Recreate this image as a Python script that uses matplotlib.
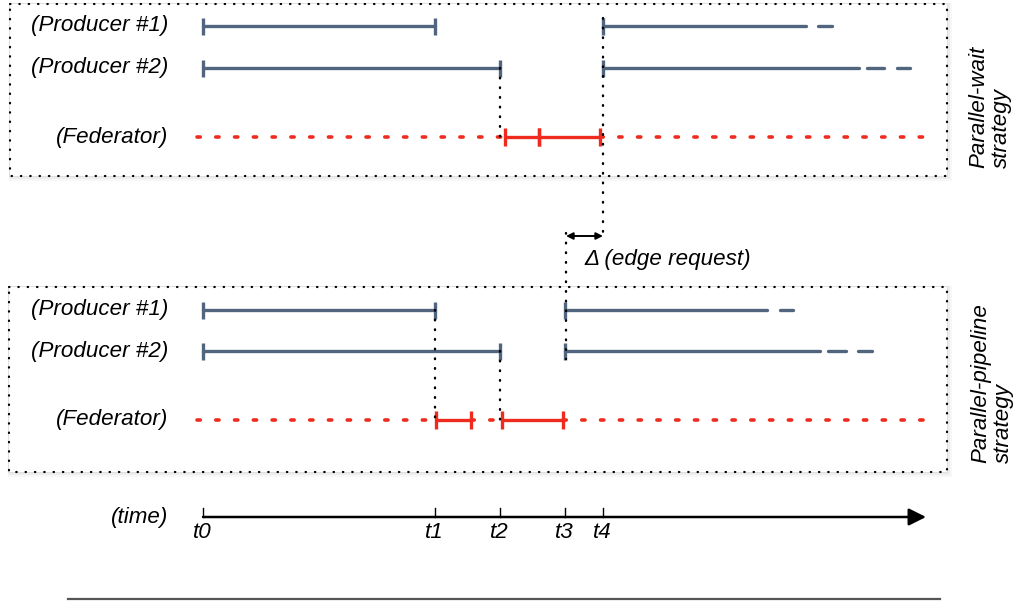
import matplotlib
matplotlib.use("Agg")
import matplotlib.pyplot as plt
from matplotlib.patches import Rectangle

# ---------------- data (time units) ----------------
row_labels = ["(Producer #1)", "(Producer #2)", "(Federator)"]
strategy_labels = ["Parallel-wait\nstrategy", "Parallel-pipeline\nstrategy"]
tick_labels = ["t0", "t1", "t2", "t3", "t4"]
tick_times = [0.0, 23.2, 29.7, 36.2, 40.0]
time_label = "(time)"
time_end = 72.3
delta_label = "Δ (edge request)"
delta_span = [36.3, 40.0]

# Parallel-wait strategy
wait_p1_busy = [(0.0, 23.2), (40.0, 60.3)]
wait_p1_tail = [(61.5, 62.9)]
wait_p2_busy = [(0.0, 29.7), (40.0, 65.6)]
wait_p2_tail = [(66.4, 68.1), (69.4, 70.7)]
wait_fed_busy = [(30.2, 33.6), (33.6, 39.7)]
wait_fed_idle = [(-0.6, 30.2), (39.7, 72.7)]
wait_guides = [(29.7, 1, 2), (40.0, 0, "delta")]

# Parallel-pipeline strategy
pipe_p1_busy = [(0.0, 23.2), (36.2, 56.4)]
pipe_p1_tail = [(57.7, 59.0)]
pipe_p2_busy = [(0.0, 29.7), (36.2, 61.7)]
pipe_p2_tail = [(62.5, 64.3), (65.5, 66.9)]
pipe_fed_busy = [(23.3, 26.8), (29.9, 36.0)]
pipe_fed_idle = [(-0.6, 23.3), (26.8, 29.9), (36.0, 72.4)]
pipe_guides = [(23.2, 0, 2), (29.7, 1, 2), (36.3, "delta", 1)]

# ---------------- styling ----------------
BLUE = "#52657f"
RED = "#ee2b1e"
FS = 16.1
FONT = "Liberation Sans"

fig = plt.figure(figsize=(10.17, 6.04), dpi=100)
# layout axes in pixel units
lay = fig.add_axes([0, 0, 1, 1])
lay.set_xlim(0, 1017)
lay.set_ylim(604, 0)
lay.axis("off")
# data axes: x in time units, y in pixel rows
ax = fig.add_axes([0, 0, 1, 1], sharey=lay)
ax.set_xlim(-20.3, 81.4)
ax.axis("off")
ax.patch.set_alpha(0)

top_rows = [26, 68, 137]
bot_rows = [310, 351, 420]
delta_y = 236
axis_y = 517

def box(x0, y0, x1, y1):
    for i, a in enumerate([0.05, 0.04, 0.03]):
        d = 2 + 2 * i
        lay.add_patch(Rectangle((x0 - 1, y0 - 1), x1 - x0 + d, y1 - y0 + d,
                                facecolor="#000000", alpha=a, edgecolor="none", zorder=0))
    r = Rectangle((x0, y0), x1 - x0, y1 - y0, facecolor="white", edgecolor="black",
                  lw=1.6, linestyle=(0, (0.2, 4.0)), zorder=1)
    r.set_capstyle("round")
    lay.add_patch(r)

box(10, 4, 947, 176)
box(9, 287, 947, 472)

def cap(t, y, color, h=8.5):
    ax.plot([t, t], [y - h, y + h], color=color, lw=2.4, solid_capstyle="butt", zorder=4)

def producer(y, busy, tail):
    for i, (a, b) in enumerate(busy):
        ax.plot([a, b], [y, y], color=BLUE, lw=2.4, solid_capstyle="round", zorder=3)
        cap(a, y, BLUE)
        if i < len(busy) - 1:
            cap(b, y, BLUE)
    for a, b in tail:
        ax.plot([a, b], [y, y], color=BLUE, lw=2.4, solid_capstyle="round", zorder=3)

def federator(y, busy, idle):
    for a, b in idle:
        ax.plot([a, b], [y, y], color=RED, lw=2.6, linestyle=(0, (0.9, 4.3)),
                dash_capstyle="round", zorder=2)
    for a, b in busy:
        ax.plot([a, b], [y, y], color=RED, lw=2.4, solid_capstyle="butt", zorder=3)
        cap(a, y, RED, 9)
        cap(b, y, RED, 9)

def guide(t, y0, y1):
    ax.plot([t, t], [y0, y1], color="black", lw=1.7, linestyle=(0, (0.3, 3.8)),
            dash_capstyle="round", zorder=5)

producer(top_rows[0], wait_p1_busy, wait_p1_tail)
producer(top_rows[1], wait_p2_busy, wait_p2_tail)
federator(top_rows[2], wait_fed_busy, wait_fed_idle)
producer(bot_rows[0], pipe_p1_busy, pipe_p1_tail)
producer(bot_rows[1], pipe_p2_busy, pipe_p2_tail)
federator(bot_rows[2], pipe_fed_busy, pipe_fed_idle)

def rowy(rows, k, top):
    if k == "delta":
        return delta_y + 2 if top else delta_y - 3
    return rows[k]

for t, a, b in wait_guides:
    ya = rowy(top_rows, a, True)
    yb = rowy(top_rows, b, True)
    if a == 0:
        ya -= 8
    guide(t, ya, yb)
for t, a, b in pipe_guides:
    ya = rowy(bot_rows, a, False)
    yb = rowy(bot_rows, b, False)
    if a == "delta":
        yb += 8
    guide(t, ya, yb)

# row labels
for rows in (top_rows, bot_rows):
    for lbl, y in zip(row_labels, rows):
        lay.text(168, y, lbl, ha="right", va="center", fontsize=FS, style="italic",
                 family=FONT)

# strategy labels
lay.text(990, 168, strategy_labels[0], rotation=90, ha="center", va="bottom",
         multialignment="left", fontsize=FS, style="italic", family=FONT, linespacing=1.1)
lay.text(992, 463, strategy_labels[1], rotation=90, ha="center", va="bottom",
         multialignment="left", fontsize=FS, style="italic", family=FONT, linespacing=1.1)

# delta arrow
ax.annotate("", xy=(delta_span[0], delta_y), xytext=(delta_span[1], delta_y),
            arrowprops=dict(arrowstyle="<|-|>", lw=1.4, color="black",
                            mutation_scale=10, shrinkA=0, shrinkB=0), zorder=6)
lay.text(584, 259, delta_label, ha="left", va="center", fontsize=FS, style="italic",
         family=FONT)

# time axis
ax.annotate("", xy=(time_end, axis_y), xytext=(tick_times[0], axis_y),
            arrowprops=dict(arrowstyle="-|>", lw=1.8, color="black",
                            mutation_scale=26, shrinkA=0, shrinkB=0))
for t, lbl in zip(tick_times, tick_labels):
    ax.plot([t, t], [axis_y - 9, axis_y], color="black", lw=1.0)
    ax.text(t - 0.1, axis_y + 16, lbl, ha="center", va="center", fontsize=FS,
            style="italic", family=FONT)
lay.text(168, axis_y, time_label, ha="right", va="center", fontsize=FS, style="italic",
         family=FONT)

# bottom separator
lay.plot([68, 940], [599, 599], color="#555555", lw=1.6)

fig.savefig("out.png", dpi=100)
